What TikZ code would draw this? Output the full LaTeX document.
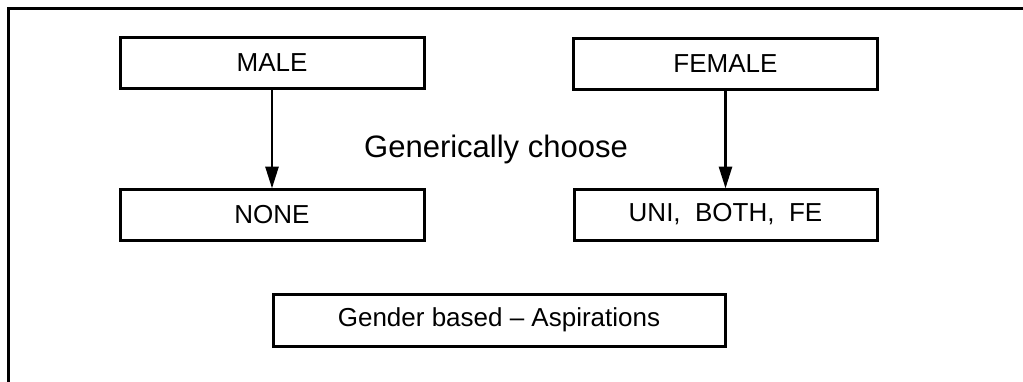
\documentclass[tikz,border=0pt]{standalone}
\usepackage{fontspec}
\setmainfont{Liberation Sans}
\usetikzlibrary{arrows.meta}
\begin{document}
\begin{tikzpicture}[x={(1pt,0)}, y={(0,-1pt)},
  stroke/.style={line width=3pt, black},
  box/.style={stroke, draw, fill=white, inner sep=0pt, minimum height=51pt,
    font=\fontsize{26}{30}\selectfont},
  flow/.style={line width=2.8pt, -{Triangle[length=22pt,width=13pt]}, shorten >=-1pt}]
  \useasboundingbox (0,0) rectangle (1023,381);
  \begin{scope}
    \clip (0,0) rectangle (1023,381);
    % outer frame, only its top and left edges fall inside the page
    \draw[stroke] (1040,8.7) -- (8.7,8.7) -- (8.7,400);
  \end{scope}

  \node[box, minimum width=304pt] (male)   at (272,63)   {MALE};
  \node[box, minimum width=304pt] (female) at (725.5,63.5) {FEMALE};
  \node[box, minimum width=304pt] (none)   at (272,214.5) {NONE};
  \node[box, minimum width=303pt] (uni)    at (725.5,214.5) {UNI,\ \ BOTH,\ \ FE};
  \node[box, minimum width=452pt, minimum height=52pt] (gender) at (499,320)
    {Gender based -- Aspirations};

  \node[anchor=base, inner sep=0pt, font=\fontsize{31}{36}\selectfont]
    (choose) at (496,157) {Generically choose};

  \draw[flow] (male.south) -- (none.north);
  \draw[flow] (female.south) -- (uni.north);
\end{tikzpicture}
\end{document}
